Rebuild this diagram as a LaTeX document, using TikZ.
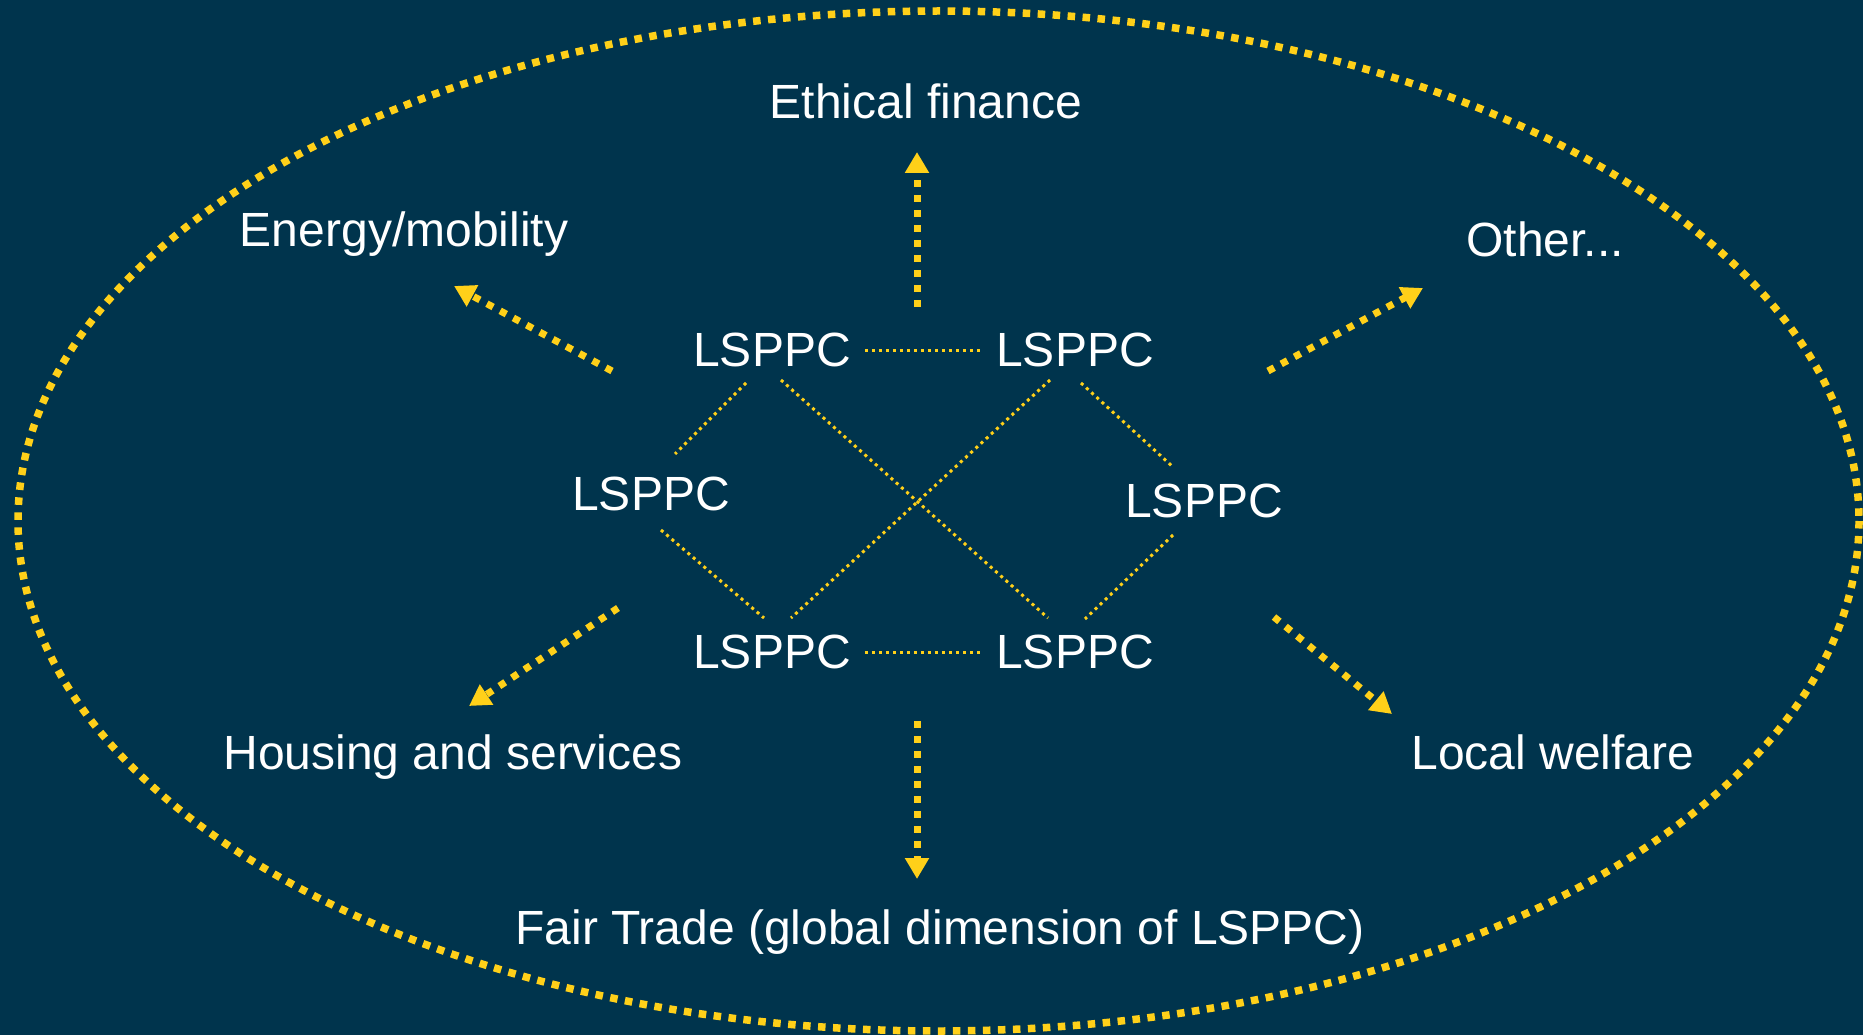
\documentclass[tikz,border=0pt]{standalone}
\usepackage{fontspec}
\setmainfont{Liberation Sans}
\usetikzlibrary{arrows.meta}
\definecolor{bg}{RGB}{0,52,77}
\definecolor{gold}{RGB}{255,208,25}
\begin{document}
\begin{tikzpicture}[x=1pt,y=-1pt,
  lbl/.style={text=white,font=\fontsize{48}{58}\selectfont,inner sep=0pt,anchor=base},
  hub/.style={text=white,font=\fontsize{48}{58}\selectfont,inner xsep=14pt,inner ysep=0pt},
  link/.style={draw=gold,line width=3pt,dash pattern=on 3pt off 4pt},
  flow/.style={draw=gold,line width=7pt,dash pattern=on 7pt off 8pt,-{Triangle[length=21pt,width=23pt]}},
  rim/.style={draw=gold,line width=7.5pt,dash pattern=on 7.5pt off 7.5pt}]
\fill[bg] (0,0) rectangle (1863,1035);
\useasboundingbox (0,0) rectangle (1863,1035);
\draw[rim] (938.5,521) ellipse [x radius=920.5, y radius=510];

% hubs
\node[hub] (tl) at (772,350) {LSPPC};
\node[hub] (tr) at (1075,350) {LSPPC};
\node[hub] (ml) at (651,494) {LSPPC};
\node[hub] (mr) at (1204,501) {LSPPC};
\node[hub] (bl) at (772,652) {LSPPC};
\node[hub] (br) at (1075,652) {LSPPC};

% labels
\node[lbl] (ef) at (926,119) {Ethical finance};
\node[lbl] (em) at (404,247) {Energy/mobility};
\node[lbl] (ot) at (1545,256) {Other...};
\node[lbl] (hs) at (453,769) {Housing and services};
\node[lbl] (lw) at (1553,769) {Local welfare};
\node[lbl] (ft) at (940,944) {Fair Trade (global dimension of LSPPC)};

% links
\draw[link] (tl) -- (tr);
\draw[link] (bl) -- (br);
\draw[link] ([shift={(-26,33)}]tl.center) -- ([shift={(24,-40)}]ml.center);
\draw[link] ([shift={(10,36)}]ml.center) -- ([shift={(-8,-34)}]bl.center);
\draw[link] ([shift={(9,30)}]tl.center) -- ([shift={(-27,-34)}]br.center);
\draw[link] ([shift={(-25,30)}]tr.center) -- ([shift={(19,-34)}]bl.center);
\draw[link] ([shift={(6,33)}]tr.center) -- ([shift={(-31,-34)}]mr.center);
\draw[link] ([shift={(-31,34)}]mr.center) -- ([shift={(10,-33)}]br.center);

% flows
\coordinate (ua0) at (917,307); \coordinate (ua1) at (917,152);
\coordinate (da0) at (917,721); \coordinate (da1) at (917,879);
\coordinate (ea0) at (612,371); \coordinate (ea1) at (454,286);
\coordinate (oa0) at (1268,371); \coordinate (oa1) at (1423,288);
\coordinate (ha0) at (618,608); \coordinate (ha1) at (469,706);
\coordinate (wa0) at (1274,617); \coordinate (wa1) at (1392,714);
\draw[flow] (ua0) -- (ua1);
\draw[flow] (da0) -- (da1);
\draw[flow] (ea0) -- (ea1);
\draw[flow] (oa0) -- (oa1);
\draw[flow] (ha0) -- (ha1);
\draw[flow] (wa0) -- (wa1);
\end{tikzpicture}
\end{document}
